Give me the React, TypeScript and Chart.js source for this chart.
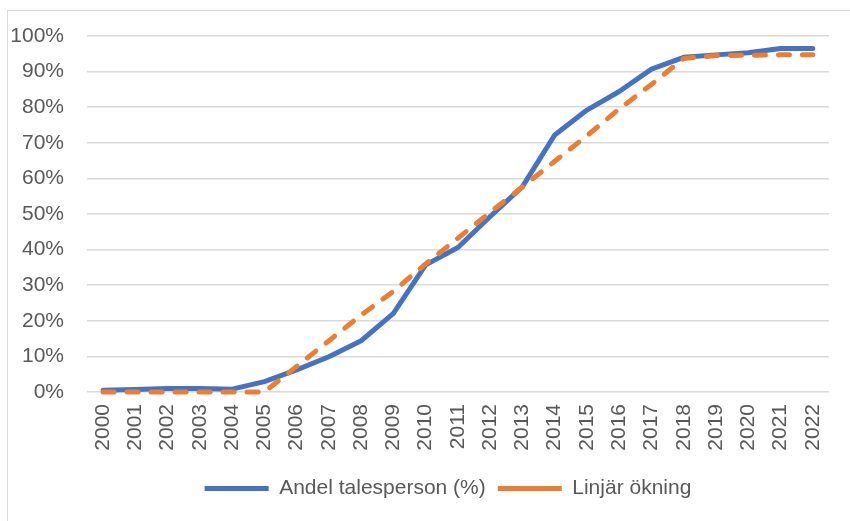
import React, { useEffect, useRef } from "react";
import { Chart, registerables } from "chart.js";

Chart.register(...registerables);

const years = [
  "2000", "2001", "2002", "2003", "2004", "2005", "2006", "2007", "2008", "2009", "2010", "2011",
  "2012", "2013", "2014", "2015", "2016", "2017", "2018", "2019", "2020", "2021", "2022",
];
const andelTalesperson = [
  0.5, 0.7, 1.0, 1.0, 0.8, 2.9, 6.2, 9.9, 14.4, 22.1, 35.7, 40.6,
  49.3, 57.7, 72.2, 79.2, 84.4, 90.7, 94.0, 94.7, 95.3, 96.5, 96.5,
];
const linjarOkning = [
  0, 0, 0, 0, 0, 0, 7.2, 14.4, 21.6, 28.3, 36.0, 43.2,
  50.5, 57.6, 64.8, 72.0, 79.5, 86.4, 93.7, 94.5, 94.6, 94.7, 94.7,
];
const seriesNames = ["Andel talesperson (%)", "Linjär ökning"];

const FONT = "'Liberation Sans', Arial, sans-serif";
const TEXT = "#595959";

const legendShift = {
  id: "legendShift",
  afterLayout(chart: any) {
    const lg = chart.legend;
    if (lg) {
      lg.left += 44;
    }
  },
};

export default function App() {
  const ref = useRef<HTMLCanvasElement | null>(null);

  useEffect(() => {
    document.body.style.margin = "0";
    const canvas = ref.current;
    if (!canvas) return;
    const chart = new Chart(canvas, {
      type: "line",
      data: {
        labels: years,
        datasets: [
          {
            label: seriesNames[0],
            data: andelTalesperson,
            borderColor: "#4472C4",
            backgroundColor: "#4472C4",
            borderWidth: 5,
            borderCapStyle: "round",
            borderJoinStyle: "round",
            pointRadius: 0,
            pointStyle: "line",
            tension: 0,
            clip: false,
            order: 1,
          },
          {
            label: seriesNames[1],
            data: linjarOkning,
            borderColor: "#ED7D31",
            backgroundColor: "#ED7D31",
            borderWidth: 5,
            borderDash: [11, 13],
            borderCapStyle: "round",
            borderJoinStyle: "round",
            pointRadius: 0,
            pointStyle: "line",
            tension: 0,
            clip: false,
            order: 0,
          },
        ],
      },
      plugins: [legendShift],
      options: {
        responsive: false,
        animation: false,
        layout: { padding: { left: 5, right: 3, top: 36, bottom: 12 } },
        plugins: {
          tooltip: { enabled: false },
          legend: {
            position: "bottom",
            labels: {
              usePointStyle: true,
              pointStyle: "line",
              pointStyleWidth: 64,
              color: TEXT,
              font: { family: FONT, size: 21 },
              padding: 12,
              sort: (a: any, b: any) => a.datasetIndex - b.datasetIndex,
            },
          },
        },
        scales: {
          x: {
            offset: true,
            grid: { display: false, drawTicks: false },
            border: { display: false },
            ticks: {
              autoSkip: false,
              minRotation: 90,
              maxRotation: 90,
              padding: 12,
              color: TEXT,
              font: { family: FONT, size: 21 },
            },
            afterFit: (s: any) => {
              s.height = 74;
            },
          },
          y: {
            min: 0,
            max: 100,
            grid: { color: "#d9d9d9", lineWidth: 1.5, drawTicks: false },
            border: { display: false },
            ticks: {
              stepSize: 10,
              padding: 23,
              color: TEXT,
              font: { family: FONT, size: 21 },
              callback: (v: any) => v + "%",
            },
            afterFit: (s: any) => {
              s.width = 82;
            },
          },
        },
      },
    });
    return () => chart.destroy();
  }, []);

  return (
    <div style={{ position: "relative", width: 850, height: 521, overflow: "hidden", background: "#fff" }}>
      <div
        style={{
          position: "absolute",
          left: 7,
          top: 10,
          width: 900,
          height: 600,
          borderLeft: "1.5px solid #d9d9d9",
          borderTop: "1.5px solid #d9d9d9",
        }}
      />
      <canvas ref={ref} width={850} height={521} style={{ position: "absolute", left: 0, top: 0, display: "block" }} />
    </div>
  );
}
